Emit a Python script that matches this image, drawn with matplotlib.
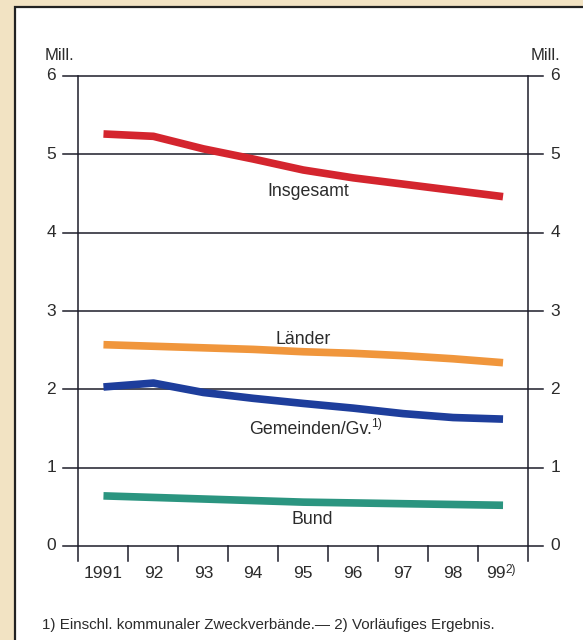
import matplotlib
matplotlib.use("Agg")
import matplotlib.pyplot as plt
from matplotlib.patches import Rectangle

# ---- data ----
years = ["1991", "92", "93", "94", "95", "96", "97", "98", "99"]
insgesamt = [5.26, 5.23, 5.07, 4.94, 4.80, 4.70, 4.62, 4.54, 4.46]
laender = [2.57, 2.55, 2.53, 2.51, 2.48, 2.46, 2.43, 2.39, 2.34]
gemeinden = [2.03, 2.08, 1.96, 1.885, 1.82, 1.76, 1.69, 1.64, 1.62]
bund = [0.64, 0.62, 0.60, 0.58, 0.56, 0.55, 0.54, 0.53, 0.52]
yticks = [0, 1, 2, 3, 4, 5, 6]

plt.rcParams['font.family'] = ['Liberation Sans', 'DejaVu Sans']

W, H = 583, 640
fig = plt.figure(figsize=(W / 100, H / 100), dpi=100)
fig.patch.set_facecolor('#f2e3c3')

# white panel with dark frame
fig.add_artist(Rectangle((15 / W, -0.05), 1.2, (H - 7) / H + 0.05,
                         transform=fig.transFigure, facecolor='white',
                         edgecolor='#222222', lw=1.6, zorder=0))

ax_l, ax_r, ax_b, ax_t = 78.5, 528, 546, 76
ax = fig.add_axes([ax_l / W, (H - ax_b) / H, (ax_r - ax_l) / W, (ax_b - ax_t) / H])
ax.set_xlim(0, 9)
ax.set_ylim(0, 6)
ax.axis('off')
ax.patch.set_alpha(0)

pxx = 9 / (ax_r - ax_l)      # data units per pixel (x)
pxy = 6 / (ax_b - ax_t)      # data units per pixel (y)
def X(px):
    return (px - ax_l) * pxx
def Y(py):
    return (ax_b - py) * pxy

grid_c = '#1c1c2a'
dx = 15 * pxx
dy = 15 * pxy
for v in yticks:
    ax.plot([-dx, 9 + dx], [v, v], color=grid_c, lw=1.1, clip_on=False, zorder=2)
for xv in [0, 9]:
    ax.plot([xv, xv], [-dy, 6], color=grid_c, lw=1.1, clip_on=False, zorder=2)
for xv in range(1, 9):
    ax.plot([xv, xv], [-dy, 0], color=grid_c, lw=1.1, clip_on=False, zorder=2)

txt_c = '#2b2b2b'
fs = 12.5

def sup(parent, s, size):
    ax.annotate(s, xy=(1, 0.78), xycoords=parent, xytext=(-0.6, 0),
                textcoords='offset points', ha='left', va='center',
                fontsize=size, color=txt_c, zorder=4)

xs = [i + 0.5 for i in range(len(years))]
for x, lab in zip(xs, years):
    if lab == "99":
        t = ax.text(X(506), Y(574), lab, ha='right', va='center', fontsize=fs, color=txt_c)
        sup(t, "2)", 8.5)
    else:
        ax.text(x, Y(574), lab, ha='center', va='center', fontsize=fs, color=txt_c)

for v in yticks:
    ax.text(X(56), v, str(v), ha='right', va='center', fontsize=fs, color=txt_c)
    ax.text(X(560), v, str(v), ha='right', va='center', fontsize=fs, color=txt_c)
ax.text(X(45), Y(56), "Mill.", ha='left', va='center', fontsize=12, color=txt_c)
ax.text(X(560), Y(56), "Mill.", ha='right', va='center', fontsize=12, color=txt_c)

lw = 5.5
series = [
    (insgesamt, '#d4252e'),
    (laender, '#f0963c'),
    (gemeinden, '#1e3e9c'),
    (bund, '#2b9580'),
]
for vals, col in series:
    ax.plot(xs, vals, color=col, lw=lw, solid_capstyle='butt',
            solid_joinstyle='round', zorder=3)

lfs = 12.8
ax.text(X(308), Y(191), "Insgesamt", ha='center', va='center', fontsize=lfs, color=txt_c, zorder=4)
ax.text(X(303), Y(339), "Länder", ha='center', va='center', fontsize=lfs, color=txt_c, zorder=4)
tg = ax.text(X(249), Y(429), "Gemeinden/Gv.", ha='left', va='center', fontsize=lfs, color=txt_c, zorder=4)
sup(tg, "1)", 8.8)
ax.text(X(312), Y(520), "Bund", ha='center', va='center', fontsize=lfs, color=txt_c, zorder=4)

fig.text(42 / W, 1 - 625 / H, "1) Einschl. kommunaler Zweckverbände.— 2) Vorläufiges Ergebnis.",
         ha='left', va='center', fontsize=10.9, color=txt_c)

fig.savefig("out.png", dpi=100, facecolor=fig.get_facecolor())
